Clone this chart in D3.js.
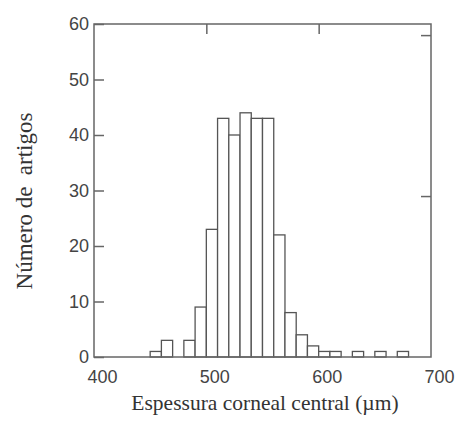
<!DOCTYPE html>
<html>
<head>
<meta charset="utf-8">
<script src="https://cdn.jsdelivr.net/npm/d3@7"></script>
<style>
  body { margin: 0; background: #fff; }
  .tick text { font-family: "Liberation Sans", Arial, sans-serif; font-size: 18px; fill: #444; }
  .domain { display: none; }
  .tick line { stroke: #666; stroke-width: 1.5; }
  .title { font-family: "Liberation Serif", "Times New Roman", serif; fill: #333; }
</style>
</head>
<body>
<svg id="svg-hist"></svg>
<script>
var width = 457,
    height = 430;

// histogram of central corneal thickness, 10 um bins
var binStarts = [450,460,470,480,490,500,510,520,530,540,550,560,570,580,590,600,610,620,630,640,650,660,670],
    counts    = [  1,  3,  0,  3,  9, 23, 43, 40, 44, 43, 43, 22,  8,  4,  2,  1,  1,  0,  1,  0,  1,  0,  1],
    binWidth = 10;

var xTicks = [400, 500, 600, 700],
    yTicks = [0, 10, 20, 30, 40, 50, 60],
    topTicks = [500, 600],
    rightTicks = [29, 58];

var xLabel = "Espessura corneal central (\u00b5m)",
    yLabel = "N\u00famero de  artigos";

var x = d3.scaleLinear().domain([400, 700]).range([94, 431]),
    y = d3.scaleLinear().domain([0, 60]).range([357, 24]);

var svg = d3.select('#svg-hist')
  .attr('width', width)
  .attr('height', height);

var bins = binStarts.map(function(b, i) { return {x0: b, x1: b + binWidth, n: counts[i]}; })
  .filter(function(d) { return d.n > 0; });

svg.append('g')
  .attr('class', 'bars')
  .selectAll('rect')
  .data(bins)
  .enter().append('rect')
  .attr('x', function(d) { return x(d.x0); })
  .attr('width', function(d) { return x(d.x1) - x(d.x0); })
  .attr('y', function(d) { return y(d.n); })
  .attr('height', function(d) { return y(0) - y(d.n); })
  .attr('fill', '#fff')
  .attr('stroke', '#555')
  .attr('stroke-width', 1.3);

// frame
svg.append('rect')
  .attr('x', x(400))
  .attr('y', y(60))
  .attr('width', x(700) - x(400))
  .attr('height', y(0) - y(60))
  .attr('fill', 'none')
  .attr('stroke', '#666')
  .attr('stroke-width', 1.5);

svg.append('g')
  .attr('transform', 'translate(' + x(400) + ',0)')
  .call(d3.axisLeft(y).tickValues(yTicks).tickSize(-10).tickPadding(5));

svg.append('g')
  .attr('transform', 'translate(0,' + y(0) + ')')
  .call(d3.axisBottom(x).tickValues(xTicks).tickSize(0).tickPadding(13))
  .selectAll('text')
  .attr('dx', 8);

svg.append('g')
  .attr('transform', 'translate(0,' + y(60) + ')')
  .call(d3.axisTop(x).tickValues(topTicks).tickSize(-10).tickFormat(''));

svg.append('g')
  .attr('transform', 'translate(' + x(700) + ',0)')
  .call(d3.axisRight(y).tickValues(rightTicks).tickSize(-10).tickFormat(''));

svg.append('text')
  .attr('class', 'title')
  .attr('x', 265)
  .attr('y', 410)
  .attr('text-anchor', 'middle')
  .attr('font-size', 21.5)
  .text(xLabel);

svg.append('text')
  .attr('class', 'title')
  .attr('transform', 'translate(32,201) rotate(-90)')
  .attr('text-anchor', 'middle')
  .attr('font-size', 23)
  .attr('xml:space', 'preserve')
  .style('white-space', 'pre')
  .text(yLabel);
</script>
</body>
</html>
